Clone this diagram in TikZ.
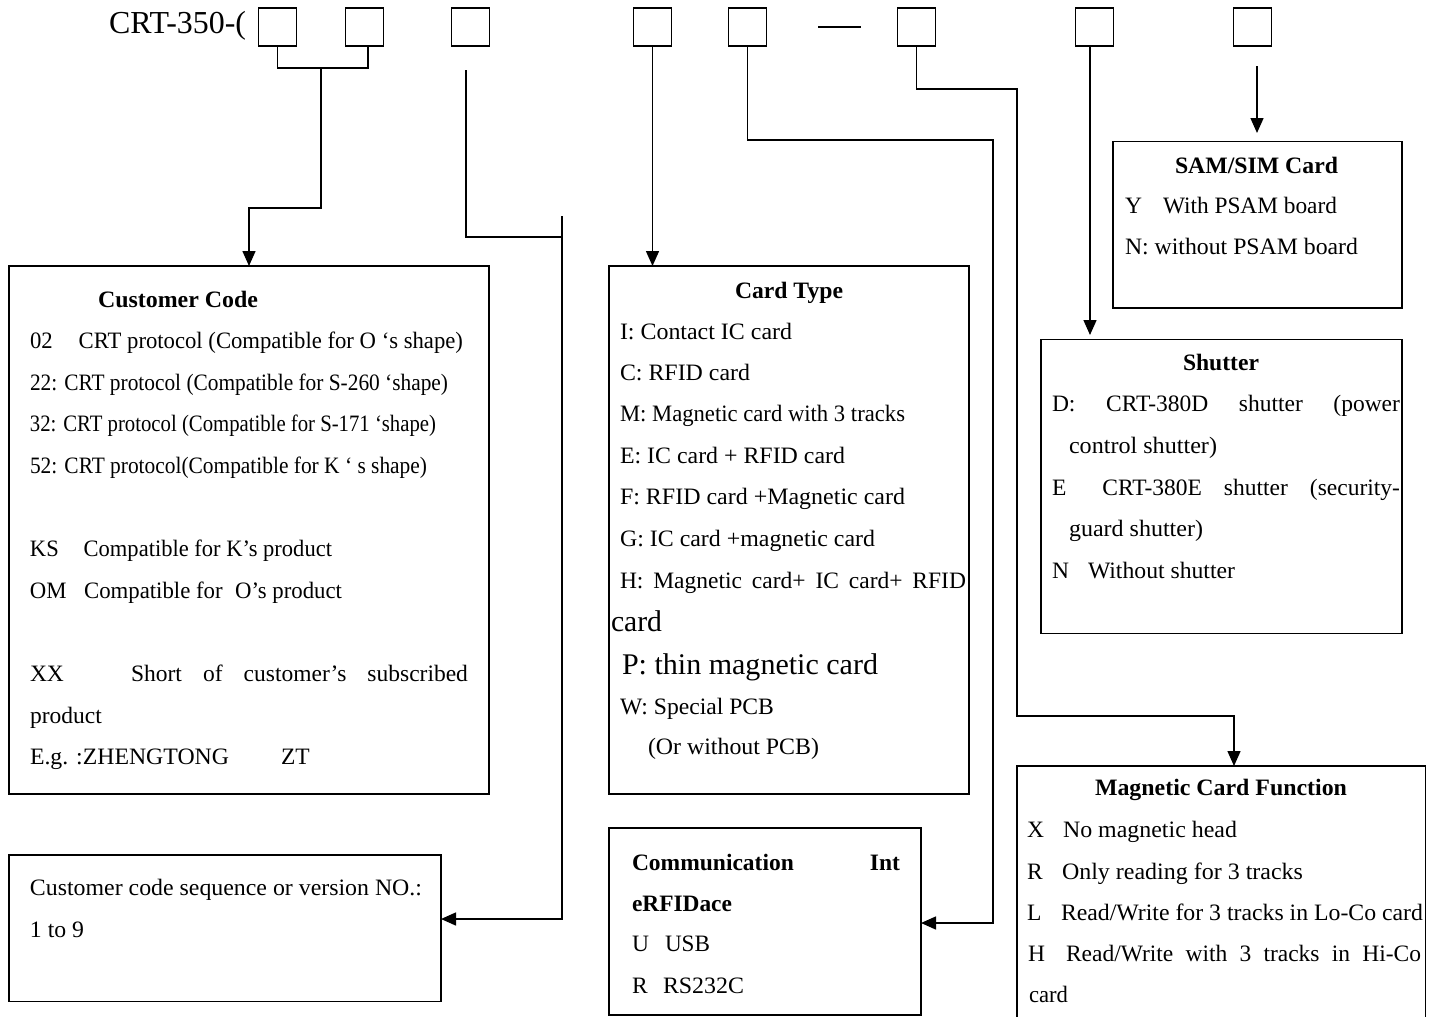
\documentclass[tikz,border=0pt]{standalone}
\usepackage{fontspec}
\setmainfont{Liberation Serif}
\usepackage{graphicx}
\usetikzlibrary{arrows.meta}
\newcommand\fw[2]{\resizebox{#1pt}{\height}{#2}}
\newcommand\jw[2]{\makebox[#1pt][s]{#2}}
\begin{document}
\begin{tikzpicture}[x=1pt,y=-1pt,
  lw/.style={line width=1.5pt},
  box/.style={draw, lw, rectangle, inner sep=0pt, outer sep=0pt},
  sq/.style={draw, lw, rectangle, inner sep=0pt, outer sep=0pt, minimum width=38, minimum height=38},
  conn/.style={lw},
  arr/.style={lw, -{Triangle[length=15pt,width=13pt]}},
  t/.style={anchor=base west, inner sep=0pt, outer sep=0pt, font=\fontsize{23.5}{28}\selectfont},
  tb/.style={t, font=\fontsize{23.5}{28}\selectfont\bfseries},
  tl/.style={t, font=\fontsize{30}{34}\selectfont},
  ttl/.style={t, font=\fontsize{32}{36}\selectfont},
]
\useasboundingbox[fill=white] (0,0) rectangle (1438,1017);

% title and code squares
\node[ttl] (title) at (109,33) {\fw{137}{CRT-350-(}};
\node[sq] (s1) at (277.5,27) {};
\node[sq] (s2) at (364.5,27) {};
\node[sq] (s3) at (470.5,27) {};
\node[sq] (s4) at (652.5,27) {};
\node[sq] (s5) at (747.5,27) {};
\draw[lw] (818,27) -- (861,27);
\node[sq] (s6) at (916.5,27) {};
\node[sq] (s7) at (1094.5,27) {};
\node[sq] (s8) at (1252.5,27) {};

% boxes
\node[box, minimum width=480, minimum height=528] (cust) at (249,530) {};
\node[box, minimum width=432, minimum height=146.5] (seq) at (225,928.25) {};
\node[box, minimum width=360, minimum height=528] (cardt) at (789,530) {};
\node[box, minimum width=312, minimum height=187] (comm) at (765,921.5) {};
\node[box, minimum width=289, minimum height=166.5] (sam) at (1257.5,224.75) {};
\node[box, minimum width=361, minimum height=294] (shut) at (1221.5,486.5) {};
\node[box, minimum width=408.5, minimum height=274] (mag) at (1221.25,903) {};

% connectors
\coordinate (j1) at (321,68);
\draw[conn] (s1.south) -- (s1.south |- j1) -- (368,68) -- (368,46);
\draw[arr] (j1) -- (321,208) -| (cust.north);
\coordinate (j3) at (466,70);
\draw[conn] (j3) -- (466,237) -- (562,237);
\coordinate (j3b) at (562,216);
\draw[arr] (j3b) -- (562,919) -- (seq.east |- 0,919);
\draw[arr] (s4.south) -- (s4.south |- cardt.north);
\draw[arr] (s5.south) |- (993,140) -- (993,923) -- (comm.east |- 0,923);
\draw[arr] (s6.south) |- (1017,89) -- (1017,716) -- (1234,716) -- (mag.north -| 1234,0);
\draw[arr] (1090,46) -- (1090,335);
\coordinate (j8) at (1257,66);
\draw[arr] (j8) -- (1257,133);

% Customer Code box
\node[tb] (h1) at (98,307) {\fw{160}{Customer Code}};
\node[t] (c1) at (30,348) {\fw{433}{02\hspace{27pt}CRT protocol (Compatible for O ‘s shape)}};
\node[t] (c2) at (30,390) {\fw{418}{22: CRT protocol (Compatible for S-260 ‘shape)}};
\node[t] (c3) at (30,431.5) {\fw{406}{32: CRT protocol (Compatible for S-171 ‘shape)}};
\node[t] (c4) at (30,473) {\fw{397}{52: CRT protocol(Compatible for K ‘ s shape)}};
\node[t] (c5) at (30,556.5) {\fw{302}{KS\hspace{26pt}Compatible for K’s product}};
\node[t] (c6) at (30,598) {\fw{312}{OM\hspace{18pt}Compatible for\hspace{7pt} O’s product}};
\node[t] (c7a) at (30,681.5) {XX};
\node[t] (c7b) at (131,681.5) {\jw{337}{Short of customer’s subscribed}};
\node[t] (c8) at (30,723) {product};
\node[t] (c9a) at (30,764.5) {\fw{199}{E.g. :ZHENGTONG}};
\node[t] (c9b) at (281,764.5) {ZT};

% Card Type box
\node[tb] (h2) at (735,298) {\fw{108}{Card Type}};
\node[t] (k1) at (620,339) {\fw{172}{I: Contact IC card}};
\node[t] (k2) at (620,380) {\fw{130}{C: RFID card}};
\node[t] (k3) at (620,421.5) {\fw{285}{M: Magnetic card with 3 tracks}};
\node[t] (k4) at (620,463) {\fw{225}{E: IC card + RFID card}};
\node[t] (k5) at (620,504.5) {\fw{285}{F: RFID card +Magnetic card}};
\node[t] (k6) at (620,546) {\fw{255}{G: IC card +magnetic card}};
\node[t] (k7) at (620,588) {\jw{346}{H: Magnetic card+ IC card+ RFID}};
\node[tl] (k8) at (611,631.7) {\fw{51}{card}};
\node[tl] (k9) at (622,674) {\fw{256}{P: thin magnetic card}};
\node[t] (k10) at (620,714) {\fw{154}{W: Special PCB}};
\node[t] (k11) at (648,754.5) {\fw{171}{(Or without PCB)}};

% Communication box
\node[tb] (m1) at (632,870) {\jw{268}{Communication Int}};
\node[tb] (m2) at (632,911) {\fw{100}{eRFIDace}};
\node[t] (m3a) at (632,951) {U};
\node[t] (m3b) at (665,951) {\fw{45}{USB}};
\node[t] (m4a) at (632,993) {R};
\node[t] (m4b) at (663,993) {\fw{81}{RS232C}};

% Sequence box
\node[t] (q1) at (30,895) {\fw{392}{Customer code sequence or version NO.:}};
\node[t] (q2) at (30,937) {\fw{54}{1 to 9}};

% SAM/SIM box
\node[tb] (h3) at (1175,173) {\fw{163}{SAM/SIM Card}};
\node[t] (a1a) at (1125,213) {Y};
\node[t] (a1b) at (1163,213) {\fw{174}{With PSAM board}};
\node[t] (a2) at (1125,254) {\fw{233}{N: without PSAM board}};

% Shutter box
\node[tb] (h4) at (1183,370) {\fw{76}{Shutter}};
\node[t] (u1) at (1052,411.7) {\jw{348}{D: CRT-380D shutter (power}};
\node[t] (u2) at (1069,453) {\fw{148}{control shutter)}};
\node[t] (u3) at (1052,495) {\jw{348}{E\hspace{14pt} CRT-380E shutter (security-}};
\node[t] (u4) at (1069,536) {\fw{134}{guard shutter)}};
\node[t] (u5a) at (1052,578) {N};
\node[t] (u5b) at (1088,578) {\fw{147}{Without shutter}};

% Magnetic Card Function box
\node[tb] (h5) at (1095,795) {\fw{252}{Magnetic Card Function}};
\node[t] (g1a) at (1027,837) {X};
\node[t] (g1b) at (1063,837) {\fw{174}{No magnetic head}};
\node[t] (g2a) at (1027,879) {R};
\node[t] (g2b) at (1062,879) {\fw{241}{Only reading for 3 tracks}};
\node[t] (g3a) at (1027,920) {L};
\node[t] (g3b) at (1061,920) {\fw{362}{Read/Write for 3 tracks in Lo-Co card}};
\node[t] (g4a) at (1028,961) {H};
\node[t] (g4b) at (1066,961) {\jw{355}{Read/Write with 3 tracks in Hi-Co}};
\node[t] (g5) at (1029,1002.5) {\fw{39}{card}};
\end{tikzpicture}
\end{document}
